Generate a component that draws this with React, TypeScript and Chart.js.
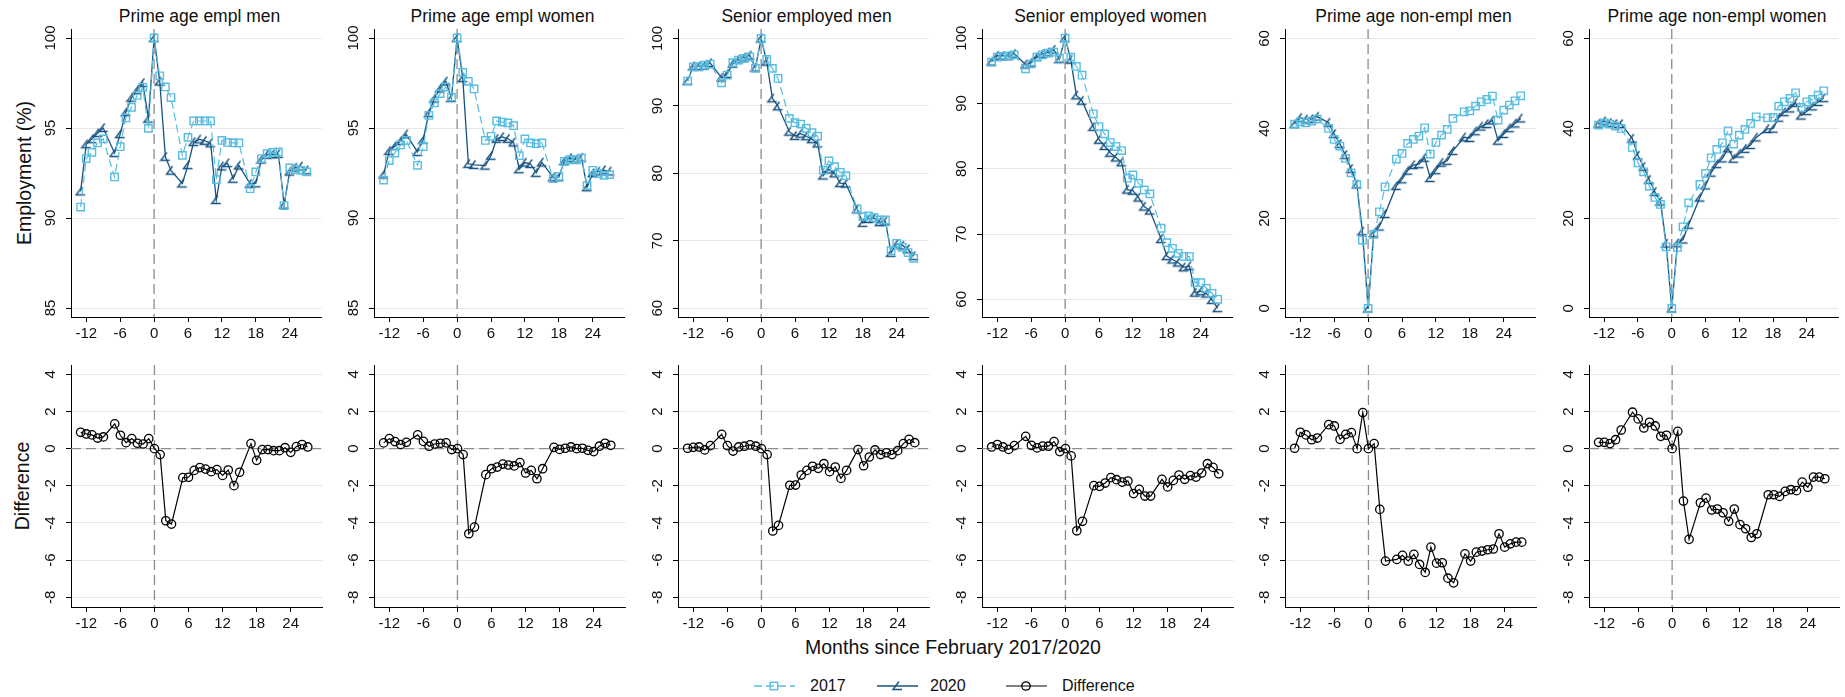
import React, { useEffect, useRef } from 'react';
import { Chart, registerables } from 'chart.js';

Chart.register(...registerables);

const FONT = '"Liberation Sans", Arial, Helvetica, sans-serif';
const LIGHT = '#58bde0';
const DARK = '#17527f';
const REF = '#8c8c8c';
const GRID = '#e6e6e6';
const TEXT = '#111111';

// ---------- data ----------
const months = [-13, -12, -11, -10, -9, -7, -6, -5, -4, -3, -2, -1, 0, 1, 2, 3, 5, 6, 7, 8, 9, 10, 11, 12, 13, 14, 15, 17, 18, 19, 20, 21, 22, 23, 24, 25, 26, 27];
const xTicks = [-12, -6, 0, 6, 12, 18, 24];
const panelTitles = ['Prime age empl men', 'Prime age empl women', 'Senior employed men', 'Senior employed women', 'Prime age non-empl men', 'Prime age non-empl women'];
const primeEmplTicks = [85, 90, 95, 100];
const seniorTicks = [60, 70, 80, 90, 100];
const nonEmplTicks = [0, 20, 40, 60];
const diffTicks = [-8, -6, -4, -2, 0, 2, 4];
const legendLabels = ['2017', '2020', 'Difference'];

const primeMen2017 = [90.61, 93.30, 93.65, 94.17, 94.39, 92.28, 93.96, 95.56, 96.15, 96.81, 97.26, 94.98, 100, 97.90, 97.28, 96.69, 93.48, 94.48, 95.39, 95.39, 95.39, 95.39, 92.13, 94.31, 94.20, 94.17, 94.17, 91.63, 92.56, 93.30, 93.57, 93.65, 93.67, 90.69, 92.78, 92.69, 92.65, 92.56];
const primeMen2020 = [91.48, 94.10, 94.38, 94.72, 95.00, 93.61, 94.66, 95.88, 96.68, 97.10, 97.50, 95.52, 100, 97.58, 93.40, 92.63, 91.92, 92.94, 94.22, 94.37, 94.29, 94.15, 91.00, 92.87, 93.05, 92.18, 92.92, 91.90, 91.93, 93.25, 93.52, 93.54, 93.56, 90.74, 92.58, 92.80, 92.87, 92.65];
const primeMenDiff = [0.88, 0.79, 0.74, 0.57, 0.63, 1.33, 0.72, 0.32, 0.54, 0.29, 0.25, 0.54, 0, -0.32, -3.88, -4.06, -1.56, -1.54, -1.17, -1.02, -1.10, -1.24, -1.13, -1.44, -1.15, -1.99, -1.27, 0.27, -0.63, -0.05, -0.05, -0.11, -0.11, 0.05, -0.20, 0.11, 0.22, 0.09];

const primeWomen2017 = [92.11, 93.19, 93.61, 94.06, 94.31, 92.93, 93.96, 95.70, 96.39, 96.91, 97.28, 96.72, 100, 98.09, 97.59, 97.17, 94.31, 94.54, 95.39, 95.33, 95.28, 95.13, 93.46, 94.39, 94.17, 94.13, 94.17, 92.19, 92.31, 93.15, 93.24, 93.24, 93.33, 91.80, 92.65, 92.46, 92.37, 92.41];
const primeWomen2020 = [92.42, 93.73, 93.99, 94.28, 94.65, 93.67, 94.35, 95.83, 96.64, 97.20, 97.59, 96.67, 100, 97.77, 93.01, 92.95, 92.91, 93.46, 94.40, 94.50, 94.40, 94.20, 92.71, 93.08, 93.00, 92.51, 93.09, 92.26, 92.27, 93.17, 93.33, 93.24, 93.35, 91.71, 92.49, 92.59, 92.66, 92.59];
const primeWomenDiff = [0.31, 0.54, 0.38, 0.22, 0.34, 0.74, 0.39, 0.13, 0.25, 0.29, 0.31, -0.05, 0, -0.32, -4.58, -4.22, -1.40, -1.08, -0.99, -0.83, -0.88, -0.93, -0.75, -1.31, -1.17, -1.62, -1.08, 0.07, -0.04, 0.02, 0.09, 0, 0.02, -0.09, -0.16, 0.13, 0.29, 0.18];

const seniorMen2017 = [93.68, 95.80, 95.80, 96.05, 96.20, 93.43, 94.57, 96.40, 96.79, 97.04, 97.28, 95.56, 100, 96.89, 95.56, 94.07, 88.15, 87.51, 87.31, 86.67, 86.02, 85.50, 80.49, 81.83, 80.99, 80.15, 79.65, 74.72, 73.58, 73.68, 73.43, 73.09, 73.09, 68.54, 69.63, 69.04, 68.25, 67.41];
const seniorMen2020 = [93.70, 95.87, 95.89, 95.98, 96.36, 94.20, 94.73, 96.27, 96.88, 97.17, 97.48, 95.69, 100, 96.57, 91.13, 89.94, 86.18, 85.55, 85.89, 85.50, 85.07, 84.44, 79.68, 80.59, 80.00, 78.55, 78.48, 74.67, 72.66, 73.23, 73.36, 72.77, 72.87, 68.22, 69.52, 69.31, 68.75, 67.73];
const seniorMenDiff = [0.02, 0.07, 0.09, -0.07, 0.16, 0.77, 0.16, -0.13, 0.09, 0.13, 0.20, 0.13, 0, -0.32, -4.43, -4.13, -1.97, -1.96, -1.42, -1.17, -0.95, -1.06, -0.81, -1.24, -0.99, -1.60, -1.17, -0.05, -0.92, -0.45, -0.07, -0.32, -0.22, -0.32, -0.11, 0.27, 0.50, 0.32];

const seniorWomen2017 = [96.32, 97.09, 97.19, 97.29, 97.45, 95.30, 96.07, 97.09, 97.45, 97.70, 97.85, 96.94, 100, 97.09, 95.66, 94.33, 88.41, 86.47, 85.34, 84.01, 83.40, 82.79, 78.55, 79.06, 77.78, 76.76, 76.15, 70.89, 68.69, 67.82, 67.06, 66.55, 66.55, 62.56, 62.56, 61.70, 60.93, 60.01];
const seniorWomen2020 = [96.41, 97.31, 97.28, 97.25, 97.61, 95.96, 96.25, 97.13, 97.59, 97.83, 98.23, 96.78, 100, 96.70, 91.24, 90.42, 86.42, 84.44, 83.49, 82.45, 81.73, 80.99, 76.81, 76.64, 75.59, 74.21, 73.60, 69.24, 66.63, 66.11, 65.64, 64.90, 65.10, 61.03, 61.25, 60.89, 59.92, 58.66];
const seniorWomenDiff = [0.09, 0.22, 0.09, -0.04, 0.16, 0.66, 0.18, 0.04, 0.14, 0.13, 0.38, -0.16, 0, -0.39, -4.42, -3.91, -1.99, -2.03, -1.85, -1.56, -1.67, -1.80, -1.74, -2.42, -2.19, -2.55, -2.55, -1.65, -2.06, -1.71, -1.42, -1.65, -1.45, -1.53, -1.31, -0.81, -1.01, -1.35];

const nonEmplMen2017 = [40.96, 41.48, 41.26, 41.63, 42.07, 40.00, 37.56, 36.07, 33.33, 30.15, 27.56, 15.19, 0, 16.44, 21.48, 27.04, 33.19, 34.44, 36.67, 37.56, 38.30, 40.15, 34.30, 36.89, 38.52, 39.78, 42.22, 43.70, 43.93, 44.96, 45.93, 46.44, 47.19, 41.85, 44.07, 45.19, 46.15, 47.26];
const nonEmplMen2020 = [40.98, 42.36, 42.00, 42.11, 42.64, 41.29, 38.78, 36.57, 34.10, 31.01, 27.56, 17.13, 0, 16.71, 18.21, 20.99, 27.23, 28.70, 30.62, 31.87, 32.07, 33.49, 29.00, 30.73, 32.38, 32.81, 35.00, 38.04, 37.88, 39.39, 40.42, 41.00, 41.79, 37.27, 38.77, 40.07, 41.12, 42.23];
const nonEmplMenDiff = [0.02, 0.88, 0.74, 0.48, 0.57, 1.29, 1.22, 0.50, 0.77, 0.86, 0.00, 1.94, 0, 0.27, -3.27, -6.05, -5.96, -5.74, -6.05, -5.69, -6.23, -6.66, -5.30, -6.16, -6.14, -6.97, -7.22, -5.66, -6.05, -5.57, -5.51, -5.44, -5.40, -4.58, -5.30, -5.12, -5.03, -5.03];

const nonEmplWomen2017 = [40.74, 41.26, 40.96, 40.52, 40.00, 35.78, 32.37, 30.37, 27.19, 24.67, 23.11, 13.70, 0, 13.56, 18.15, 23.48, 27.56, 30.00, 33.48, 35.33, 36.81, 39.48, 36.52, 38.52, 39.78, 41.11, 42.59, 42.37, 42.44, 44.96, 45.93, 46.67, 47.93, 44.67, 45.93, 46.44, 47.41, 48.37];
const nonEmplWomen2020 = [41.08, 41.60, 41.23, 41.00, 41.00, 37.74, 33.97, 31.48, 28.61, 25.89, 23.77, 14.42, 0, 14.49, 15.33, 18.60, 24.65, 27.34, 30.18, 32.08, 33.36, 35.57, 33.27, 34.43, 35.47, 36.33, 38.01, 39.89, 39.96, 42.39, 43.63, 44.46, 45.67, 42.87, 43.85, 44.91, 45.88, 46.75];
const nonEmplWomenDiff = [0.34, 0.34, 0.27, 0.48, 1.00, 1.96, 1.60, 1.11, 1.42, 1.22, 0.66, 0.72, 0, 0.93, -2.82, -4.88, -2.91, -2.66, -3.30, -3.25, -3.45, -3.91, -3.25, -4.09, -4.31, -4.78, -4.58, -2.48, -2.48, -2.57, -2.30, -2.21, -2.26, -1.80, -2.08, -1.53, -1.53, -1.62];

// ---------- layout ----------
const X_MIN = -14.7;
const X_MAX = 29.6;
const COL_AXIS_X = [71, 374, 678, 982, 1285, 1589];
const PLOT_W = [257, 257, 257, 257, 257, 256];
const TOP_ROW = { top: 29, height: 288 };
const BOTTOM_ROW = { top: 365, height: 242 };
const Y_AXIS_W = 46;
const PAD_TOP = 8;
const X_AXIS_H = 32;

const topRanges = [
  [84.5, 100.5], [84.5, 100.5], [58.7, 101.4], [57.3, 101.4], [-1.9, 62.1], [-1.9, 62.1],
];
const DIFF_RANGE = [-8.52, 4.5];

function makeAngleMarker(color: string) {
  const c = document.createElement('canvas');
  c.width = 12;
  c.height = 12;
  const g = c.getContext('2d')!;
  g.strokeStyle = color;
  g.lineWidth = 1.4;
  g.beginPath();
  g.moveTo(7.5, 1.5);
  g.lineTo(1.5, 9.5);
  g.lineTo(10.5, 9.5);
  g.stroke();
  return c;
}

const toXY = (vals: number[]) => months.map((m, i) => ({ x: m, y: vals[i] }));

type PanelProps = {
  left: number;
  top: number;
  plotW: number;
  plotH: number;
  yMin: number;
  yMax: number;
  yTicks: number[];
  datasets: any[];
  hline: boolean;
};

function Panel(p: PanelProps) {
  const ref = useRef<HTMLCanvasElement>(null);
  const width = Y_AXIS_W + p.plotW;
  const height = PAD_TOP + p.plotH + X_AXIS_H;
  useEffect(() => {
    const canvas = ref.current!;
    const refPlugin = {
      id: 'refLines',
      beforeDatasetsDraw(chart: any) {
        const { ctx, chartArea, scales } = chart;
        ctx.save();
        ctx.strokeStyle = REF;
        ctx.lineWidth = 1.3;
        ctx.setLineDash([10, 5]);
        const x0 = scales.x.getPixelForValue(0);
        ctx.beginPath();
        ctx.moveTo(x0, chartArea.top);
        ctx.lineTo(x0, chartArea.bottom);
        ctx.stroke();
        if (p.hline) {
          const y0 = scales.y.getPixelForValue(0);
          ctx.beginPath();
          ctx.moveTo(chartArea.left, y0);
          ctx.lineTo(chartArea.right, y0);
          ctx.stroke();
        }
        ctx.restore();
      },
      afterDraw(chart: any) {
        const { ctx, chartArea, scales } = chart;
        ctx.save();
        ctx.fillStyle = TEXT;
        ctx.font = `15px ${FONT}`;
        ctx.textAlign = 'center';
        ctx.textBaseline = 'middle';
        for (const v of p.yTicks) {
          const y = scales.y.getPixelForValue(v);
          ctx.save();
          ctx.translate(chartArea.left - 20, y);
          ctx.rotate(-Math.PI / 2);
          ctx.fillText(String(v), 0, 0);
          ctx.restore();
        }
        ctx.restore();
      },
    };
    const chart = new Chart(canvas, {
      type: 'line',
      data: { datasets: p.datasets },
      options: {
        animation: false,
        responsive: false,
        maintainAspectRatio: false,
        layout: { padding: { top: PAD_TOP, left: 0, right: 0, bottom: 0 } },
        plugins: { legend: { display: false }, tooltip: { enabled: false } },
        scales: {
          x: {
            type: 'linear',
            min: X_MIN,
            max: X_MAX,
            afterBuildTicks: (s: any) => { s.ticks = xTicks.map((v) => ({ value: v })); },
            afterFit: (s: any) => { s.height = X_AXIS_H; },
            grid: { drawOnChartArea: false, drawTicks: true, tickLength: 5, tickColor: '#000', tickWidth: 1 },
            border: { display: true, color: '#000', width: 1 },
            ticks: {
              color: TEXT,
              font: { size: 15, family: FONT },
              padding: 3,
              maxRotation: 0,
              minRotation: 0,
              autoSkip: false,
              callback: (v: any) => String(v),
            },
          },
          y: {
            type: 'linear',
            min: p.yMin,
            max: p.yMax,
            afterBuildTicks: (s: any) => { s.ticks = p.yTicks.map((v) => ({ value: v })); },
            afterFit: (s: any) => { s.width = Y_AXIS_W; },
            grid: { color: GRID, lineWidth: 1, drawTicks: true, tickLength: 5, tickColor: '#000', tickWidth: 1 },
            border: { display: true, color: '#000', width: 1 },
            ticks: { display: false },
          },
        },
      } as any,
      plugins: [refPlugin],
    });
    return () => chart.destroy();
  }, []);
  return (
    <canvas
      ref={ref}
      width={width}
      height={height}
      style={{ position: 'absolute', left: p.left, top: p.top, width, height, display: 'block' }}
    />
  );
}

const topSeries = [
  [primeMen2017, primeMen2020],
  [primeWomen2017, primeWomen2020],
  [seniorMen2017, seniorMen2020],
  [seniorWomen2017, seniorWomen2020],
  [nonEmplMen2017, nonEmplMen2020],
  [nonEmplWomen2017, nonEmplWomen2020],
];
const diffSeries = [primeMenDiff, primeWomenDiff, seniorMenDiff, seniorWomenDiff, nonEmplMenDiff, nonEmplWomenDiff];
const topTicks = [primeEmplTicks, primeEmplTicks, seniorTicks, seniorTicks, nonEmplTicks, nonEmplTicks];

export default function App() {
  const angle = makeAngleMarker(DARK);
  const textBase: React.CSSProperties = {
    position: 'absolute',
    fontFamily: FONT,
    color: TEXT,
    whiteSpace: 'nowrap',
    lineHeight: 1,
  };
  return (
    <div style={{ position: 'absolute', left: 0, top: 0, width: 1845, height: 697, overflow: 'hidden', background: '#fff' }}>
      {panelTitles.map((t, c) => (
        <div key={'t' + c} style={{ ...textBase, fontSize: 17.5, left: COL_AXIS_X[c] + PLOT_W[c] / 2, top: 17, transform: 'translate(-50%, -50%)' }}>{t}</div>
      ))}
      <div style={{ ...textBase, fontSize: 19.5, left: 25, top: 173, transform: 'translate(-50%, -50%) rotate(-90deg)' }}>Employment (%)</div>
      <div style={{ ...textBase, fontSize: 19.5, left: 23, top: 486, transform: 'translate(-50%, -50%) rotate(-90deg)' }}>Difference</div>
      <div style={{ ...textBase, fontSize: 19.5, left: 953, top: 648, transform: 'translate(-50%, -50%)' }}>Months since February 2017/2020</div>

      {topSeries.map((s, c) => (
        <Panel
          key={'top' + c}
          left={COL_AXIS_X[c] - Y_AXIS_W}
          top={TOP_ROW.top - PAD_TOP}
          plotW={PLOT_W[c]}
          plotH={TOP_ROW.height}
          yMin={topRanges[c][0]}
          yMax={topRanges[c][1]}
          yTicks={topTicks[c]}
          hline={false}
          datasets={[
            {
              label: '2017',
              data: toXY(s[0]),
              borderColor: LIGHT,
              borderWidth: 1.2,
              borderDash: [8, 4],
              pointStyle: 'rect',
              pointRadius: 5.2,
              pointBorderColor: LIGHT,
              pointBackgroundColor: 'rgba(0,0,0,0)',
              pointBorderWidth: 1.4,
              fill: false,
              tension: 0,
              clip: false,
            },
            {
              label: '2020',
              data: toXY(s[1]),
              borderColor: DARK,
              borderWidth: 1.3,
              pointStyle: angle,
              pointRadius: 5,
              pointBorderColor: DARK,
              pointBackgroundColor: 'rgba(0,0,0,0)',
              fill: false,
              tension: 0,
              clip: false,
            },
          ]}
        />
      ))}
      {diffSeries.map((d, c) => (
        <Panel
          key={'bot' + c}
          left={COL_AXIS_X[c] - Y_AXIS_W}
          top={BOTTOM_ROW.top - PAD_TOP}
          plotW={PLOT_W[c]}
          plotH={BOTTOM_ROW.height}
          yMin={DIFF_RANGE[0]}
          yMax={DIFF_RANGE[1]}
          yTicks={diffTicks}
          hline={true}
          datasets={[
            {
              label: 'Difference',
              data: toXY(d),
              borderColor: '#000',
              borderWidth: 1.2,
              pointStyle: 'circle',
              pointRadius: 4.2,
              pointBorderColor: '#000',
              pointBackgroundColor: 'rgba(0,0,0,0)',
              pointBorderWidth: 1.3,
              fill: false,
              tension: 0,
              clip: false,
            },
          ]}
        />
      ))}

      <svg style={{ position: 'absolute', left: 0, top: 670 }} width={1845} height={30}>
        <line x1={754} x2={795} y1={16} y2={16} stroke={LIGHT} strokeWidth={1.3} strokeDasharray="8 4" />
        <rect x={770.3} y={12.3} width={7.4} height={7.4} fill="none" stroke={LIGHT} strokeWidth={1.4} />
        <line x1={877} x2={918} y1={16} y2={16} stroke={DARK} strokeWidth={1.3} />
        <path d="M 899 11.5 L 893 19.5 L 902 19.5" fill="none" stroke={DARK} strokeWidth={1.4} />
        <line x1={1006} x2={1047} y1={16} y2={16} stroke="#000" strokeWidth={1.2} />
        <circle cx={1026} cy={16} r={4.2} fill="none" stroke="#000" strokeWidth={1.3} />
      </svg>
      <div style={{ ...textBase, fontSize: 16, left: 810, top: 686, transform: 'translateY(-50%)' }}>{legendLabels[0]}</div>
      <div style={{ ...textBase, fontSize: 16, left: 930, top: 686, transform: 'translateY(-50%)' }}>{legendLabels[1]}</div>
      <div style={{ ...textBase, fontSize: 16, left: 1062, top: 686, transform: 'translateY(-50%)' }}>{legendLabels[2]}</div>
    </div>
  );
}
